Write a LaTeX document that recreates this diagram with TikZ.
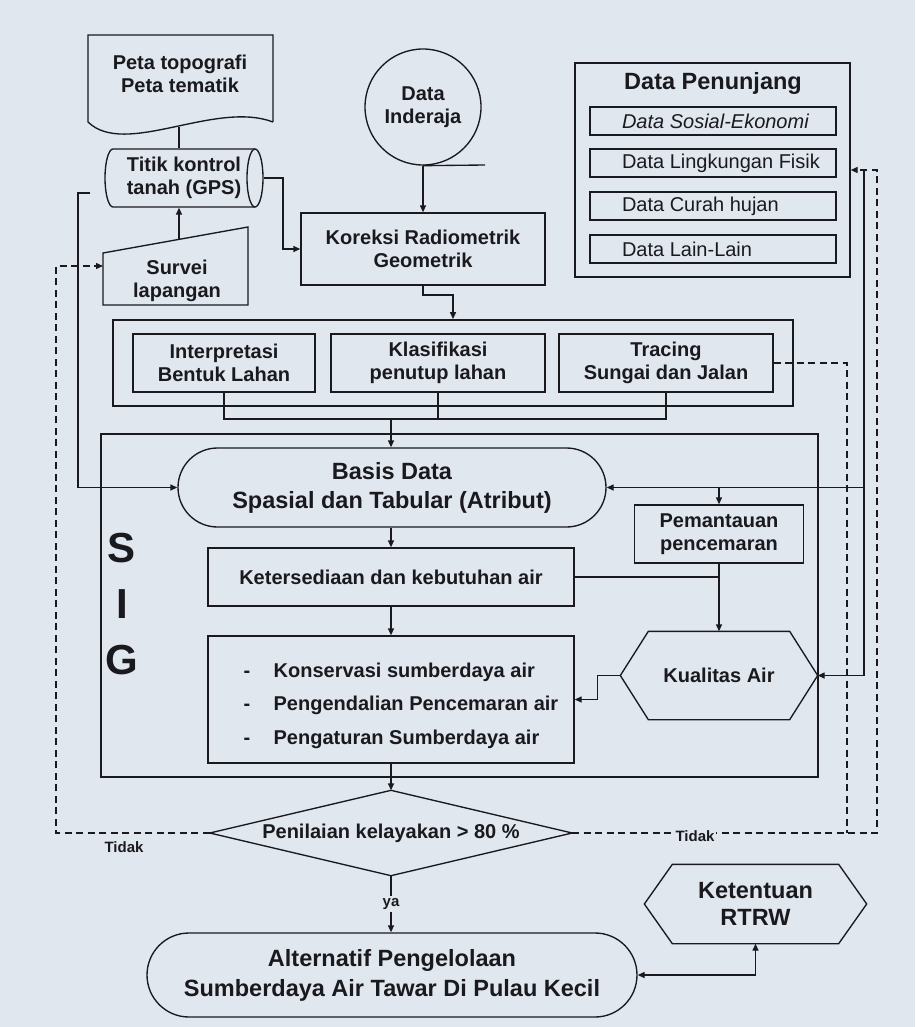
\documentclass[tikz,border=0pt]{standalone}
\usepackage{fontspec}
\setmainfont{Liberation Sans}
\usetikzlibrary{arrows.meta}
\definecolor{bgc}{RGB}{225,231,239}
\definecolor{ink}{RGB}{26,26,30}
\begin{document}
\begin{tikzpicture}[x=1pt,y=-1pt,line width=1.35pt,color=ink,
  lbl/.style={align=center,inner sep=0pt,font=\fontsize{20}{23}\selectfont\bfseries},
  big/.style={align=center,inner sep=0pt,font=\fontsize{23.5}{29}\selectfont\bfseries},
  bx/.style={draw,rectangle,inner sep=0pt},
  thickframe/.style={draw,rectangle,inner sep=0pt,line width=1.8pt},
  sub/.style={anchor=west,inner sep=0pt,font=\fontsize{20}{24}\selectfont},
  small/.style={inner sep=2pt,font=\fontsize{15}{17}\selectfont\bfseries},
  arr/.style={-{Triangle[length=7pt,width=6pt]}},
  dsh/.style={dash pattern=on 7pt off 4.5pt},
  dasharr/.style={dsh,arr},
  sigletter/.style={inner sep=0pt,font=\fontsize{42}{42}\selectfont\bfseries}]
\fill[bgc] (0,0) rectangle (915,1027);
\useasboundingbox (0,0) rectangle (915,1027);

% ---- Peta (document shape)
\node[lbl] (doc) at (180,74) {Peta topografi\\Peta tematik};
\draw (273,122) -- (273,35) -- (88,35) -- (88,122) .. controls (125,158) and (215,100) .. (273,122);
\coordinate (docb) at (179,127);

% ---- Cylinder
\node[lbl,minimum width=158pt,minimum height=58pt] (cyl) at (184,178) {Titik kontrol\\tanah (GPS)};
\draw (255,149) -- (113,149) arc[start angle=90,end angle=270,x radius=8pt,y radius=29pt] -- (255,207);
\draw (255,178) ellipse [x radius=8pt,y radius=29pt];
\draw (docb) -- (docb |- cyl.north);

% ---- Survei lapangan (manual input)
\draw (103,253) -- (248,227) -- (248,305) -- (103,305) -- cycle;
\node[lbl] (surv) at (177,281) {Survei\\lapangan};
\coordinate (survtop) at (179,239);
\coordinate (survL) at (103,266);
\draw[arr] (survtop) -- (survtop |- cyl.south);
\coordinate (cylL) at (90,193);

% ---- Data Inderaja
\node[draw,circle,minimum size=116pt,lbl] (di) at (423,107) {Data\\Inderaja};
\draw (di.south) -- (485,165);

% ---- Koreksi
\node[bx,lbl,minimum width=244pt,minimum height=72pt] (kor) at (423,249) {Koreksi Radiometrik\\Geometrik};
\draw[arr] (di.south) -- (kor.north);
\draw[arr] (cyl.east) -- (283,178) |- (kor.west);

% ---- Interpretation frame
\node[thickframe,minimum width=680pt,minimum height=86pt] (ifr) at (453,363) {};
\node[bx,lbl,minimum width=182pt,minimum height=58pt] (b1) at (224,363) {Interpretasi\\Bentuk Lahan};
\node[bx,lbl,minimum width=214pt,minimum height=58pt] (b2) at (438,363) {Klasifikasi\\penutup lahan};
\node[bx,lbl,minimum width=214pt,minimum height=58pt] (b3) at (666,363) {Tracing\\Sungai dan Jalan};
\coordinate (kturn) at (453,295);
\draw[arr] (kor.south) -- (423,295) -- (kturn) -- (kturn |- ifr.north);

% ---- Data Penunjang
\node[bx,minimum width=275pt,minimum height=214pt] (dp) at (712.5,170) {};
\node[inner sep=0pt,font=\fontsize{23.5}{28}\selectfont\bfseries] (dpt) at (713,83) {Data Penunjang};
\node[bx,minimum width=246pt,minimum height=28pt] (d1) at (713,121) {};
\node[bx,minimum width=246pt,minimum height=28pt] (d2) at (713,163) {};
\node[bx,minimum width=246pt,minimum height=28pt] (d3) at (713,206) {};
\node[bx,minimum width=246pt,minimum height=28pt] (d4) at (713,249) {};
\node[sub] (t1) at ([xshift=32pt]d1.west) {\itshape Data Sosial-Ekonomi};
\node[sub] (t2) at ([xshift=32pt]d2.west) {Data Lingkungan Fisik};
\node[sub] (t3) at ([xshift=32pt]d3.west) {Data Curah hujan};
\node[sub] (t4) at ([xshift=32pt]d4.west) {Data Lain-Lain};
\coordinate (dpR) at (864,170);

% ---- SIG frame
\node[thickframe,minimum width=717pt,minimum height=343pt] (sig) at (459.5,605.5) {};
\node[sigletter] (s1) at (122,548) {S};
\node[sigletter] (s2) at (122,604) {I};
\node[sigletter] (s3) at (122,660) {G};

\node[draw,rounded corners=39.5pt,minimum width=428pt,minimum height=79pt,big] (bas) at (392,487.5) {Basis Data\\Spasial dan Tabular (Atribut)};
\node[bx,lbl,minimum width=366pt,minimum height=58pt] (ket) at (391,577) {Ketersediaan dan kebutuhan air};
\node[bx,minimum width=366pt,minimum height=127pt] (mit) at (391,699.5) {};
\node[inner sep=0pt,align=left,anchor=west,font=\fontsize{20}{33.5}\selectfont\bfseries] (mitt) at (243,705.5)
  {\makebox[30pt][l]{-}Konservasi sumberdaya air\\\makebox[30pt][l]{-}Pengendalian Pencemaran air\\\makebox[30pt][l]{-}Pengaturan Sumberdaya air};
\node[bx,lbl,minimum width=169pt,minimum height=58pt] (pem) at (719,534) {Pemantauan\\pencemaran};
\node[lbl,minimum width=196pt,minimum height=87pt] (kua) at (719,675.5) {Kualitas Air};
\draw (kua.west) -- ([xshift=28pt]kua.north west) -- ([xshift=-28pt]kua.north east) -- (kua.east)
  -- ([xshift=-28pt]kua.south east) -- ([xshift=28pt]kua.south west) -- cycle;

% ---- connectors in the middle
\coordinate (jn) at (391,419);
\coordinate (j1) at (224,419);
\coordinate (j3) at (666,419);
\draw (b1.south) -- (j1) -- (j3) -- (b3.south);
\draw (b2.south) -- (b2.south |- jn);
\draw[arr] (jn) -- (jn |- bas.north);
\draw[arr] (cylL) -- (78,193) -- (78,487.5) -- (bas.west);
\draw[arr] (ket.north |- bas.south) -- (ket.north);
\draw[arr] (ket.south) -- (mit.north);
\draw (ket.east) -- (pem.south |- ket.east);
\draw[arr] (pem.south) -- (kua.north);
\draw[arr] (kua.west) -- ++(-23pt,0) |- (mit.east);
\draw[arr] (dpR) |- (kua.east);
\draw[arr] (dpR |- bas.east) -- (bas.east);
\draw[arr] (pem.north |- bas.east) -- (pem.north);

% ---- Decision
\node[lbl,minimum width=361pt,minimum height=84pt] (dia) at (391,833) {Penilaian kelayakan > 80 \%};
\draw (dia.west) -- (dia.north) -- (dia.east) -- (dia.south) -- cycle;
\draw[arr] (mit.south) -- (dia.north);

\draw[dasharr] (dia.west) -- (56,833) |- (survL);
\node[small] (tdk1) at (124,847) {Tidak};
\draw[dsh] (b3.east) -- (847,363) -- (847,833);
\draw[dasharr] (dia.east) -- (877,833) |- (dp.east);
\node[small,fill=bgc] (tdk2) at (695,836) {Tidak};

% ---- Bottom
\node[draw,rounded corners=42pt,minimum width=490pt,minimum height=84pt,align=center,inner sep=0pt,
  font=\fontsize{23.5}{30}\selectfont\bfseries] (alt) at (392,975) {Alternatif Pengelolaan\\Sumberdaya Air Tawar Di Pulau Kecil};
\draw[arr] (dia.south) -- (dia.south |- alt.north) node[midway,small,fill=bgc] {ya};
\node[align=center,inner sep=0pt,font=\fontsize{23.5}{27}\selectfont\bfseries,minimum width=221pt,minimum height=78pt] (rtrw) at (755.5,904) {Ketentuan\\RTRW};
\draw (rtrw.west) -- ([xshift=28pt]rtrw.north west) -- ([xshift=-28pt]rtrw.north east) -- (rtrw.east)
  -- ([xshift=-28pt]rtrw.south east) -- ([xshift=28pt]rtrw.south west) -- cycle;
\draw[{Triangle[length=7pt,width=6pt]}-{Triangle[length=7pt,width=6pt]}] (alt.east) -| (rtrw.south);
\end{tikzpicture}
\end{document}
